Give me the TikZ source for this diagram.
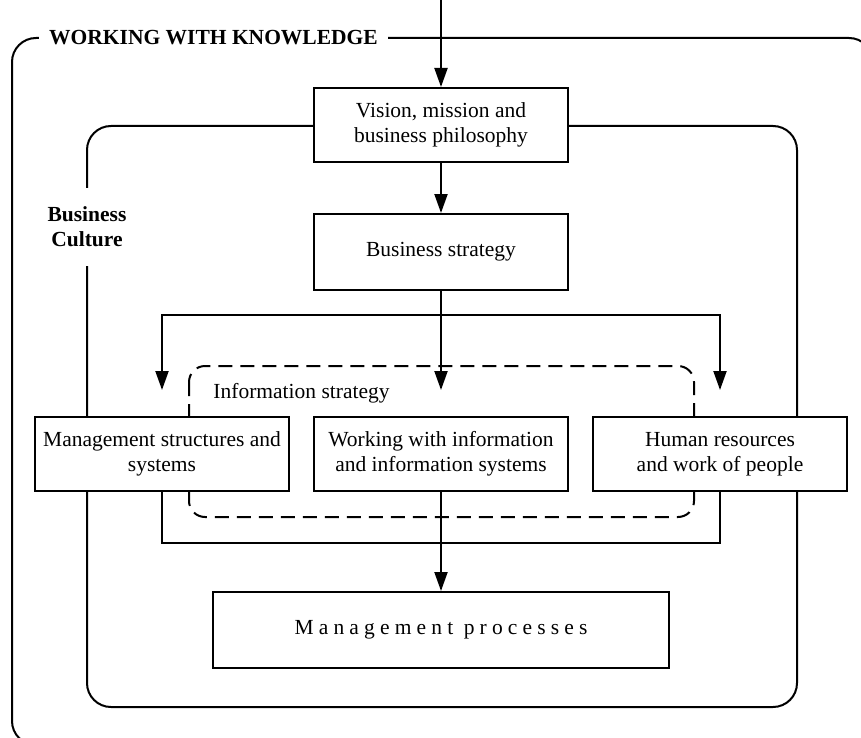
\documentclass[tikz,border=0pt]{standalone}
\usepackage{fontspec}
\setmainfont{Liberation Serif}
\usetikzlibrary{arrows.meta}
\begin{document}
\begin{tikzpicture}[x=1pt,y=-1pt,
  line width=2pt,
  txt/.style={font=\fontsize{21.5}{25}\selectfont},
  boldtxt/.style={font=\fontsize{21.5}{25}\selectfont\bfseries},
  box/.style={txt, draw, fill=white, minimum width=254pt, minimum height=74pt,
              align=center, inner sep=0pt},
  arr/.style={-{Triangle[length=19pt,width=13pt]}},
  roundframe/.style={rounded corners=24pt},
  infoframe/.style={rounded corners=16pt, dash pattern=on 14pt off 8pt}
]
\useasboundingbox (0,0) rectangle (861,738);
\clip (0,0) rectangle (861,738);

% outer frame: working with knowledge
\draw[roundframe] (12,38) rectangle (873,745);
\node[boldtxt, fill=white, inner xsep=10pt, inner ysep=4pt] (wwk) at (213.5,38) {WORKING WITH KNOWLEDGE};

% inner frame: business culture
\draw[roundframe] (87,126) rectangle (797,707);
\node[boldtxt, fill=white, align=center, inner xsep=4pt, inner ysep=19pt] (bc) at (87,227) {Business\\Culture};

% information strategy
\draw[infoframe] (189,366) rectangle (694,517);
\node[txt, anchor=base, inner sep=0pt] (infolbl) at (301.5,398) {Information strategy};

% boxes
\node[box] (vision) at (441,125) {Vision, mission and\\business philosophy};
\node[box, minimum height=76pt] (strat) at (441,252) {Business strategy};
\node[box] (mgmt)   at (162,454) {Management structures and\\systems};
\node[box] (work)   at (441,454) {Working with information\\and information systems};
\node[box] (human)  at (720,454) {Human resources\\and work of people};
\node[box, minimum width=456pt, minimum height=76pt] (proc) at (441,630)
  {\addfontfeature{LetterSpace=24}Management processes};

% connector points
\coordinate (topin) at (441,0);
\coordinate (split) at (441,315);
\coordinate (ltip)  at (162,390);
\coordinate (mtip)  at (441,390);
\coordinate (rtip)  at (720,390);
\coordinate (join)  at (441,543);

% connectors
\draw[arr] (topin) -- (vision.north);
\draw[arr] (vision.south) -- (strat.north);
\draw[arr] (strat.south) -- (mtip);
\draw[arr] (split) -| (ltip);
\draw[arr] (split) -| (rtip);
\draw (mgmt.south) |- (join);
\draw (human.south) |- (join);
\draw[arr] (work.south) -- (proc.north);
\end{tikzpicture}
\end{document}
